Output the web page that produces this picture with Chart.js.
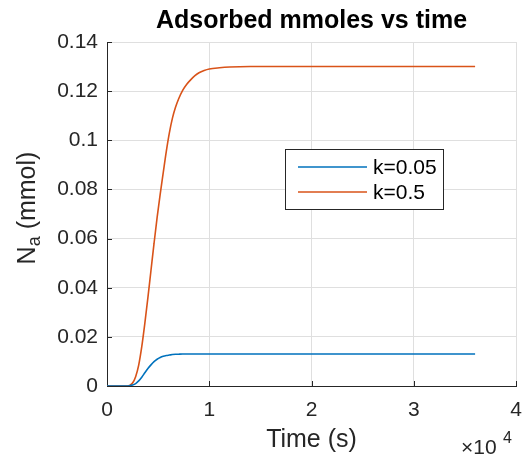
<!DOCTYPE html>
<html>
<head>
<meta charset="utf-8">
<script src="https://cdn.jsdelivr.net/npm/chart.js@4.4.1/dist/chart.umd.min.js"></script>
<style>
html, body { margin: 0; padding: 0; background: #fff; }
#wrap { width: 524px; height: 461px; position: relative; }
</style>
</head>
<body>
<div id="wrap"><canvas id="mainChart"></canvas></div>
<script>
// Donnees
const timeS = [0, 1000, 2000, 2200, 2500, 2800, 3100, 3400, 3700, 4000, 4300, 4600, 4900,
    5200, 5500, 5800, 6100, 6400, 6700, 7000, 7400, 7800, 8200, 8600, 9000, 9500, 10000,
    11000, 12000, 14000, 16000, 20000, 24000, 28000, 32000, 36000];
const naK005 = [0, 0, 0, 0.0001, 0.0004, 0.0010, 0.0021, 0.0036, 0.0054, 0.0071, 0.0086, 0.0099, 0.0109,
    0.0116, 0.0121, 0.0124, 0.0126, 0.0128, 0.0129, 0.01295, 0.0130, 0.0130, 0.0130, 0.0130, 0.0130, 0.0130, 0.0130,
    0.0130, 0.0130, 0.0130, 0.0130, 0.0130, 0.0130, 0.0130, 0.0130, 0.0130];
const naK05 = [0, 0, 0, 0.0002, 0.0012, 0.0038, 0.0085, 0.0160, 0.0255, 0.0360, 0.0470, 0.0580, 0.0685,
    0.0780, 0.0868, 0.0955, 0.1030, 0.1090, 0.1134, 0.1168, 0.1203, 0.1228, 0.1247, 0.1263, 0.1275, 0.1284, 0.1290,
    0.1295, 0.1298, 0.1300, 0.1300, 0.1300, 0.1300, 0.1300, 0.1300, 0.1300];

const seriesLabels = ['k=0.05', 'k=0.5'];
const seriesColors = ['#0072BD', '#D95319'];

const xTicks = [0, 10000, 20000, 30000, 40000];
const xTickLabels = ['0', '1', '2', '3', '4'];
const yTicks = [0, 0.02, 0.04, 0.06, 0.08, 0.1, 0.12, 0.14];
const yTickLabels = ['0', '0.02', '0.04', '0.06', '0.08', '0.1', '0.12', '0.14'];

const FONT = "'Liberation Sans', Arial, sans-serif";
const AXIS = '#262626';

function toPoints(ys) {
    return timeS.map((t, i) => ({ x: t, y: ys[i] }));
}

// ticks vers l'interieur, titres, exposant et legende facon MATLAB
const matlabDecor = {
    id: 'matlabDecor',
    beforeDatasetsDraw(chart) {
        const { ctx, chartArea: a, scales: { x, y } } = chart;
        ctx.save();
        ctx.strokeStyle = AXIS;
        ctx.lineWidth = 1;
        ctx.beginPath();
        xTicks.forEach(v => {
            const px = Math.round(x.getPixelForValue(v)) + 0.5;
            ctx.moveTo(px, a.bottom);
            ctx.lineTo(px, a.bottom - 5);
        });
        yTicks.forEach(v => {
            const py = Math.round(y.getPixelForValue(v)) + 0.5;
            ctx.moveTo(a.left, py);
            ctx.lineTo(a.left + 5, py);
        });
        ctx.stroke();
        ctx.restore();
    },
    afterDraw(chart) {
        const { ctx, chartArea: a } = chart;
        const cx = (a.left + a.right) / 2;
        ctx.save();

        // titre
        ctx.fillStyle = '#000';
        ctx.font = 'bold 25px ' + FONT;
        ctx.textAlign = 'center';
        ctx.textBaseline = 'alphabetic';
        ctx.fillText('Adsorbed mmoles vs time', cx, 28);

        // titre axe x
        ctx.fillStyle = AXIS;
        ctx.font = '25px ' + FONT;
        ctx.fillText('Time (s)', cx, 447);

        // exposant x10^4
        ctx.textAlign = 'left';
        ctx.font = '21px ' + FONT;
        ctx.fillText('\u00d710', 461, 454);
        ctx.font = '16px ' + FONT;
        ctx.fillText('4', 503, 443);

        // titre axe y : N_a (mmol)
        ctx.translate(35, (a.top + a.bottom) / 2 - 6);
        ctx.rotate(-Math.PI / 2);
        const big = '25px ' + FONT, small = '18px ' + FONT;
        ctx.font = big;
        const wN = ctx.measureText('N').width;
        const wRest = ctx.measureText(' (mmol)').width;
        ctx.font = small;
        const wA = ctx.measureText('a').width;
        let xx = -(wN + wA + wRest) / 2;
        ctx.font = big;
        ctx.fillText('N', xx, 0);
        xx += wN;
        ctx.font = small;
        ctx.fillText('a', xx, 5);
        xx += wA;
        ctx.font = big;
        ctx.fillText(' (mmol)', xx, 0);
        ctx.restore();

        // legende
        ctx.save();
        const lx = 285, ly = 149, lw = 158, lh = 60;
        ctx.fillStyle = '#fff';
        ctx.fillRect(lx, ly, lw, lh);
        ctx.strokeStyle = AXIS;
        ctx.lineWidth = 1;
        ctx.strokeRect(lx + 0.5, ly + 0.5, lw, lh);
        ctx.font = '21px ' + FONT;
        ctx.textAlign = 'left';
        ctx.textBaseline = 'middle';
        chart.data.datasets.forEach((ds, i) => {
            const rowY = ly + 18 + i * 25;
            ctx.strokeStyle = ds.borderColor;
            ctx.lineWidth = 1.6;
            ctx.beginPath();
            ctx.moveTo(lx + 13, rowY);
            ctx.lineTo(lx + 82, rowY);
            ctx.stroke();
            ctx.fillStyle = '#000';
            ctx.fillText(ds.label, lx + 88, rowY + 1);
        });
        ctx.restore();
    }
};

function initChart() {
    const ctx = document.getElementById('mainChart').getContext('2d');
    chart = new Chart(ctx, {
        type: 'line',
        data: {
            datasets: [naK005, naK05].map((ys, i) => ({
                label: seriesLabels[i],
                data: toPoints(ys),
                borderColor: seriesColors[i],
                backgroundColor: seriesColors[i],
                borderWidth: 1.6,
                pointRadius: 0,
                fill: false,
                cubicInterpolationMode: 'monotone'
            }))
        },
        options: {
            responsive: true,
            maintainAspectRatio: false,
            animation: false,
            devicePixelRatio: 1,
            layout: { padding: { left: 0, right: 8, top: 42, bottom: 0 } },
            plugins: {
                legend: { display: false },
                title: { display: false },
                tooltip: { enabled: false }
            },
            scales: {
                x: {
                    type: 'linear',
                    min: 0,
                    max: 40000,
                    afterBuildTicks: s => { s.ticks = xTicks.map(v => ({ value: v })); },
                    afterFit: s => { s.height = 75; s.paddingLeft = 0; s.paddingRight = 0; },
                    grid: { color: '#dfdfdf', drawTicks: false },
                    border: { color: AXIS, width: 1 },
                    ticks: {
                        autoSkip: false,
                        maxRotation: 0,
                        padding: 12,
                        color: AXIS,
                        font: { family: FONT, size: 21 },
                        callback: (v, i) => xTickLabels[i]
                    }
                },
                y: {
                    min: 0,
                    max: 0.14,
                    afterBuildTicks: s => { s.ticks = yTicks.map(v => ({ value: v })); },
                    afterFit: s => { s.width = 107; s.paddingTop = 0; s.paddingBottom = 0; },
                    grid: { color: '#dfdfdf', drawTicks: false },
                    border: { color: AXIS, width: 1 },
                    ticks: {
                        autoSkip: false,
                        padding: 9,
                        color: AXIS,
                        font: { family: FONT, size: 21 },
                        callback: (v, i) => yTickLabels[i]
                    }
                }
            }
        },
        plugins: [matlabDecor]
    });
}

let chart;
initChart();
</script>
</body>
</html>
